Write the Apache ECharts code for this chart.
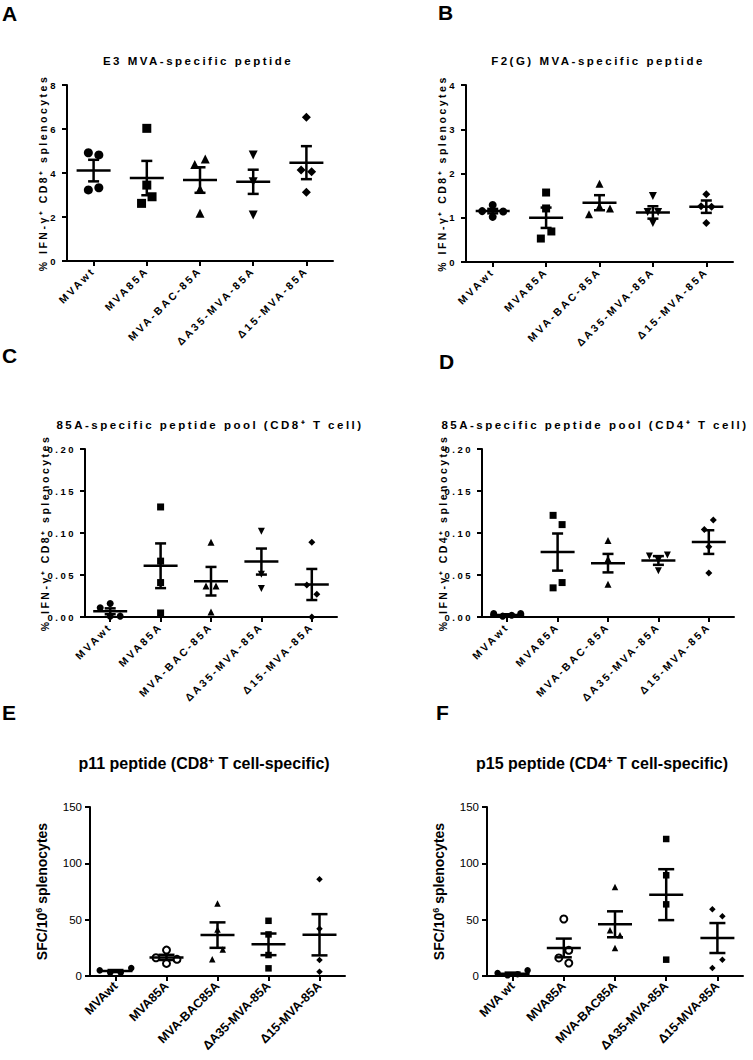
<!DOCTYPE html>
<html><head><meta charset="utf-8">
<script src="https://cdn.jsdelivr.net/npm/echarts@6/dist/echarts.min.js"></script>
<style>
html,body{margin:0;padding:0;background:#fff;}
#c{width:753px;height:1060px;}
#c text[style*="Liberation"]{letter-spacing:2.5px;}
</style></head><body><div id="c"></div>
<script>
// ---------- categories ----------
const catsAD = ['MVAwt','MVA85A','MVA-BAC-85A','ΔA35-MVA-85A','Δ15-MVA-85A'];
const catsE  = ['MVAwt','MVA85A','MVA-BAC85A','ΔA35-MVA-85A','Δ15-MVA-85A'];
const catsF  = ['MVA wt','MVA85A','MVA-BAC85A','ΔA35-MVA-85A','Δ15-MVA-85A'];

// ---------- y-axis ticks ----------
const ticksA = [0,2,4,6,8];
const ticksB = [0,1,2,3,4];
const ticksC = [0,0.05,0.10,0.15,0.20];
const ticksD = [0,0.05,0.10,0.15,0.20];
const ticksE = [0,50,100,150];
const ticksF = [0,50,100,150];

// ---------- individual animals (one list per group) ----------
const pointsA = [[4.82,4.92,3.33,3.23],[6.03,3.45,2.92,2.62],[4.64,4.39,3.27,2.17],[4.82,3.60,2.09],[6.53,4.06,4.14,3.12]];
const pointsB = [[1.29,1.15,1.14,1.02],[1.57,1.21,0.69,0.53],[1.77,1.26,1.08,1.21],[1.49,1.13,1.13,0.88],[1.53,1.25,1.26,0.88]];
const pointsC = [[0.016,0.011,0.001,0.001],[0.131,0.0665,0.041,0.0048],[0.089,0.037,0.037,0.006],[0.102,0.051,0.034],[0.089,0.027,0.038,0.0]];
const pointsD = [[0.002,0.001,0.004,0.004],[0.110,0.121,0.041,0.0347],[0.091,0.069,0.039],[0.0677,0.0725,0.0737,0.055],[0.1154,0.1043,0.0836,0.0525]];
const pointsE = [[3,3,7,5],[23,16.2,14.8,11.2],[64.4,41.3,23.5,14.8],[49,36.9,18.6,6.8],[85.9,41.9,14.2,3.8]];
const pointsF = [[1.5,0.6,5,2.7],[50.6,22.8,16,11.5],[79,36.1,40.5,24.9],[121.6,89.4,63.6,14.5],[53,59.2,14.5,7.1]];

// ---------- group means and SEM ----------
const meansA = [4.11,3.77,3.68,3.60,4.47];      const semsA = [0.49,0.78,0.58,0.55,0.75];
const meansB = [1.15,1.00,1.34,1.12,1.25];      const semsB = [0.05,0.23,0.17,0.14,0.14];
const meansC = [0.0068,0.061,0.0426,0.066,0.0387]; const semsC = [0.0035,0.0266,0.017,0.0155,0.0185];
const meansD = [0.0025,0.0773,0.0641,0.0673,0.0892]; const semsD = [0.0008,0.0221,0.011,0.0052,0.0141];
const meansE = [4.4,16.5,36.3,28.1,36.6];        const semsE = [0.9,2.3,11.3,9.6,18.3];
const meansF = [2.1,24.9,45.9,72.2,33.7];        const semsF = [0.9,8.3,11.5,22.6,13.3];

// ---------- texts ----------
const titles = ['E3 MVA-specific peptide','F2(G) MVA-specific peptide',
  '85A-specific peptide pool (CD8⁺ T cell)','85A-specific peptide pool (CD4⁺ T cell)',
  'p11 peptide (CD8{s|+} T cell-specific)','p15 peptide (CD4{s|+} T cell-specific)'];
const letters = ['A','B','C','D','E','F'];
const yNames = ['% IFN-γ⁺ CD8⁺ splenocytes','% IFN-γ⁺ CD8⁺ splenocytes','% IFN-γ⁺ CD8⁺ splenocytes',
  '% IFN-γ⁺ CD4⁺ splenocytes','SFC/10{s|6} splenocytes','SFC/10{s|6} splenocytes'];

// ---------- layout / style ----------
const SP = 'Liberation Sans';   // letter-spaced font (panels A-D)
const AR = 'Arial';
const symAD = [['circle',0],['rect',0],['triangle',0],['triangle',180],['diamond',0]];
const symEF = [['circle',0],['emptyCircle',0],['triangle',0],['rect',0],['diamond',0]];
const panels = [
 {cats:catsAD, ticks:ticksA, pts:pointsA, means:meansA, sems:semsA, grid:{left:67,top:85,width:266,height:176},
  tx:198, ty:61, lx:2, ly:13, nameGap:17, ms:9, sp:10.5, sym:symAD, ef:false, dec:0},
 {cats:catsAD, ticks:ticksB, pts:pointsB, means:meansB, sems:semsB, grid:{left:466,top:85,width:267,height:177},
  tx:598, ty:61, lx:438, ly:12, nameGap:18, ms:8, sp:10.5, sym:symAD, ef:false, dec:0},
 {cats:catsAD, ticks:ticksC, pts:pointsC, means:meansC, sems:semsC, grid:{left:85,top:449,width:252,height:168},
  tx:210, ty:425, lx:2, ly:355, nameGap:35, ms:7, sp:10, sym:symAD, ef:false, dec:2},
 {cats:catsAD, ticks:ticksD, pts:pointsD, means:meansD, sems:semsD, grid:{left:482,top:449,width:252,height:168},
  tx:595, ty:425, lx:439, ly:361, nameGap:34, ms:7, sp:9, sym:symAD, ef:false, dec:2},
 {cats:catsE, ticks:ticksE, pts:pointsE, means:meansE, sems:semsE, grid:{left:90,top:807,width:255,height:169},
  tx:204, ty:763, lx:2, ly:712, nameGap:41, ms:6.5, sp:10.5, sym:symEF, ef:true, dec:0},
 {cats:catsF, ticks:ticksF, pts:pointsF, means:meansF, sems:semsF, grid:{left:487,top:807,width:256,height:169},
  tx:602, ty:763, lx:436, ly:712, nameGap:41, ms:6.5, sp:10, sym:symEF, ef:true, dec:0}
];

// spread overlapping points sideways into columns (pixel space), like a scatter dot plot
function swarm(ys, s, d){
  const n = ys.length, keys = [...ys.keys()];
  const idx = keys.slice().sort((a,b)=>ys[a]-ys[b]);
  const cl = new Array(n); let c = 0;
  idx.forEach((k,j)=>{ if(j>0 && ys[k]-ys[idx[j-1]] >= d) c++; cl[k]=c; });
  const col = new Array(n).fill(0);
  for(let g=0; g<=c; g++){
    const mem = keys.filter(k=>cl[k]===g);
    const placed = [];
    mem.forEach(k=>{
      for(let t=0; t<20; t++){
        const cand = t===0 ? 0 : (t%2===1 ? -Math.ceil(t/2) : Math.ceil(t/2));
        if(placed.every(q=>col[q]!==cand || Math.abs(ys[q]-ys[k]) >= d)){ col[k]=cand; break; }
      }
      placed.push(k);
    });
    const xs = mem.map(k=>col[k]);
    const sh = -(Math.min(...xs)+Math.max(...xs))/2;
    mem.forEach(k=>col[k]+=sh);
  }
  return col.map(v=>v*s);
}

function errRender(meanHW, capHW, lw){
  return function(params, api){
    const c = api.value(0), m = api.value(1), e = api.value(2);
    const p = api.coord([c,m]), pt = api.coord([c,m+e]), pb = api.coord([c,m-e]);
    const st = {stroke:'#000', lineWidth:lw, fill:null};
    return {type:'group', children:[
      {type:'line', shape:{x1:p[0]-meanHW,y1:p[1],x2:p[0]+meanHW,y2:p[1]}, style:st},
      {type:'line', shape:{x1:p[0],y1:pt[1],x2:p[0],y2:pb[1]}, style:st},
      {type:'line', shape:{x1:p[0]-capHW,y1:pt[1],x2:p[0]+capHW,y2:pt[1]}, style:st},
      {type:'line', shape:{x1:p[0]-capHW,y1:pb[1],x2:p[0]+capHW,y2:pb[1]}, style:st}
    ]};
  };
}

function buildOption(offsets){
  const grid=[], xAxis=[], yAxis=[], series=[], graphic=[];
  panels.forEach((p,pi)=>{
    const fam = p.ef ? AR : SP;
    grid.push(Object.assign({containLabel:false, outerBoundsMode:'none'}, p.grid));
    const axLine = {show:true, lineStyle:{color:'#000', width:2}};
    const axTick = {show:true, length:5, lineStyle:{color:'#000', width:2}};
    xAxis.push({type:'category', gridIndex:pi, data:p.cats, boundaryGap:true,
      axisLine:axLine, axisTick:Object.assign({alignWithLabel:true}, axTick),
      axisLabel:{interval:0, rotate:45, color:'#000', fontFamily:fam, fontWeight:'bold',
        fontSize:p.ef?12.5:10.5, margin:8, hideOverlap:false},
      splitLine:{show:false}});
    const tk = p.ticks;
    yAxis.push({type:'value', gridIndex:pi, min:tk[0], max:tk[tk.length-1], interval:tk[1]-tk[0],
      axisLine:axLine, axisTick:axTick, splitLine:{show:false},
      axisLabel:{color:'#000', fontFamily:fam, fontWeight:p.ef?'normal':'bold', fontSize:p.ef?11.5:9.5, margin:p.ef?8:9,
        formatter:v=>v.toFixed(p.dec)},
      name:yNames[pi], nameLocation:'middle', nameRotate:90, nameGap:p.nameGap,
      nameTextStyle:{color:'#000', fontFamily:fam, fontWeight:'bold', fontSize:p.ef?14:10.5,
        rich:{s:{fontSize:9, fontFamily:fam, fontWeight:'bold', color:'#000', verticalAlign:'top', padding:[0,0,6,0]}}}});
    p.pts.forEach((grp,gi)=>{
      const off = offsets ? offsets[pi][gi] : grp.map(()=>0);
      series.push({type:'scatter', xAxisIndex:pi, yAxisIndex:pi, symbol:p.sym[gi][0], symbolRotate:p.sym[gi][1],
        symbolSize:p.sym[gi][0]==='emptyCircle'?p.ms+0.5:p.ms, itemStyle:{color:'#000', opacity:1}, z:2, silent:true, animation:false,
        data:grp.map((v,k)=>({value:[gi,v], symbolOffset:[off[k],0]}))});
    });
    series.push({type:'custom', xAxisIndex:pi, yAxisIndex:pi, z:3, silent:true, animation:false,
      renderItem:errRender(17, p.ef?8:5.5, 2.5), encode:{x:0,y:1},
      data:p.means.map((m,i)=>[i,m,p.sems[i]])});
    graphic.push({type:'text', x:p.tx, y:p.ty, silent:true,
      style:{text:titles[pi], fill:'#000', fontFamily:fam, fontWeight:'bold', fontSize:p.ef?16:11.5,
        textAlign:'center', textVerticalAlign:'middle', align:'center', verticalAlign:'middle',
        rich:{s:{fontSize:10, fontFamily:fam, fontWeight:'bold', fill:'#000', verticalAlign:'top', padding:[0,0,6,0]}}}});
    graphic.push({type:'text', x:p.lx, y:p.ly, silent:true,
      style:{text:letters[pi], fill:'#000', fontFamily:AR, fontWeight:'bold', fontSize:21,
        textAlign:'left', textVerticalAlign:'middle', align:'left', verticalAlign:'middle'}});
  });
  return {backgroundColor:'#fff', animation:false, grid, xAxis, yAxis, series, graphic};
}

const chart = echarts.init(document.getElementById('c'), null, {renderer:'svg', width:753, height:1060});
chart.setOption(buildOption(null));
const offsets = panels.map((p,pi)=>p.pts.map((grp,gi)=>{
  const ys = grp.map(v=>chart.convertToPixel({xAxisIndex:pi, yAxisIndex:pi}, [gi, v])[1]);
  return swarm(ys, p.sp, 10);
}));
chart.setOption(buildOption(offsets));
</script></body></html>
